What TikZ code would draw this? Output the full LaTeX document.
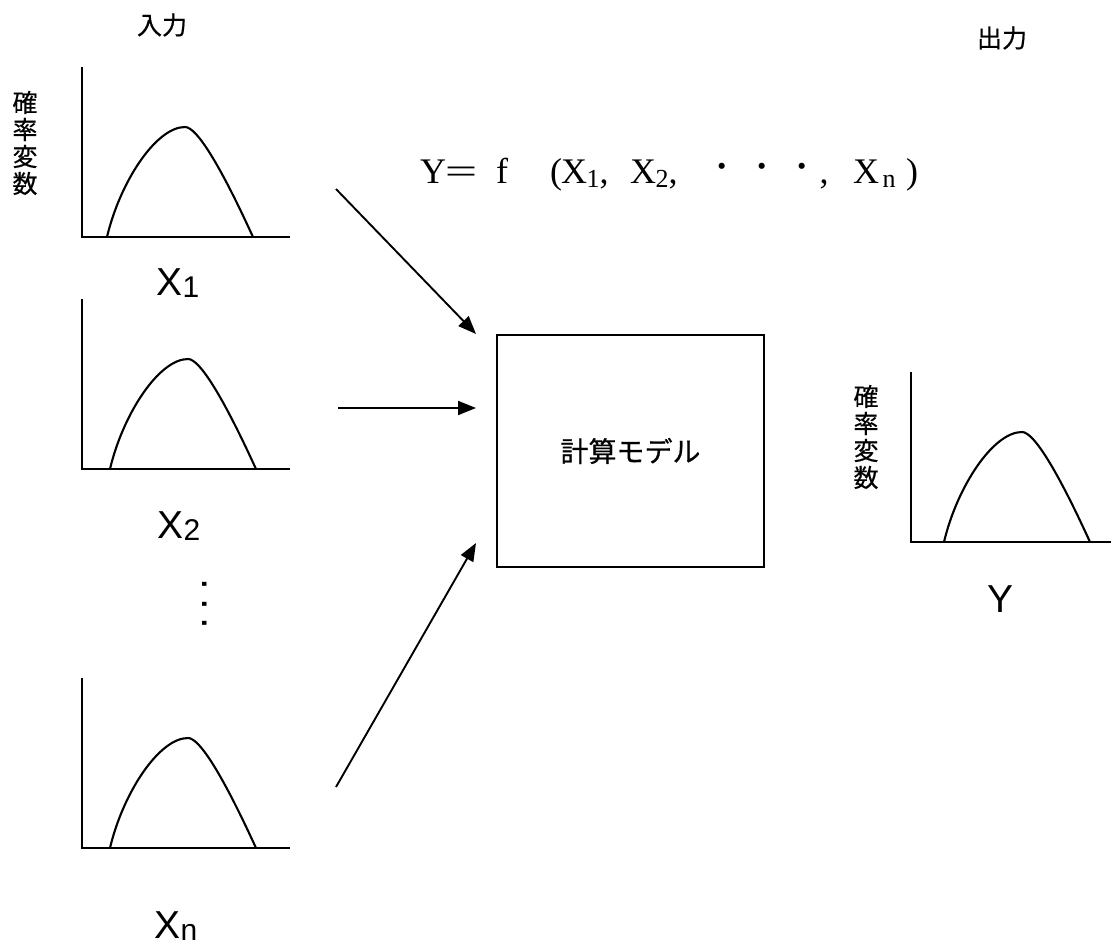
\documentclass[tikz,border=0pt]{standalone}
\usepackage{fontspec}
\setmainfont{Liberation Serif}
\newfontfamily\jpfont{Noto Sans CJK JP}[FakeBold=0.6]
\newfontfamily\lsans{Liberation Sans}
\usetikzlibrary{arrows.meta}
\tikzset{
  axisline/.style={line width=1.5pt},
  bellcurve/.style={line width=2.1pt},
  arr/.style={line width=1.9pt,-{Triangle[length=18pt,width=14pt]}},
  jplabel/.style={font=\jpfont\fontsize{25}{27}\selectfont, inner sep=0pt, align=center},
  xlabel/.style={font=\lsans\fontsize{39}{39}\selectfont, inner sep=0pt, anchor=base},
  fm/.style={font=\fontsize{36}{36}\selectfont, inner sep=0pt, anchor=base},
  fs/.style={font=\fontsize{26}{26}\selectfont, inner sep=0pt, anchor=base},
  fdot/.style={font=\fontsize{52}{52}\selectfont, inner sep=0pt, anchor=base},
  pics/bell/.style={code={
    \draw[axisline] (0,-170) -- (0,0) -- (208,0);
    \draw[bellcurve, xshift=#1] (28,0) .. controls (41,-55) and (77,-110) .. (106,-110)
       .. controls (118,-110) and (142,-70) .. (174,0);
  }}
}
\newcommand{\subl}[1]{\raisebox{-2pt}{\fontsize{30}{30}\selectfont #1}}
\begin{document}
\begin{tikzpicture}[x=1pt,y=-1pt]
\useasboundingbox (0,0) rectangle (1111,945);

% titles
\node[jplabel] (inlab) at (162,25) {入力};
\node[jplabel] (outlab) at (1002,38) {出力};
\node[jplabel] (pl) at (25,143) {確\\率\\変\\数};
\node[jplabel] (pr) at (866,437) {確\\率\\変\\数};

% plots
\pic at (82,237) {bell=-3pt};
\pic at (82,469) {bell=0pt};
\pic at (82,848) {bell=0pt};
\pic at (911,542) {bell=5pt};

% axis labels
\node[xlabel] (x1) at (178,295) {X\subl{1}};
\node[xlabel] (x2) at (179,538) {X\subl{2}};
\node[xlabel] (xn) at (176,938) {X\subl{n}};
\node[xlabel] (yl) at (1000,612) {Y};
\node[font=\lsans\fontsize{42}{42}\selectfont, inner sep=0pt, rotate=-90] (vd) at (205,604) {.\kern8pt.\kern8pt.};

% formula
\node[fm] (fY) at (433,183) {Y};
\node[fm] (feq) at (461,183) {\scalebox{1.6}[1]{=}};
\node[fm] (ff) at (502,183) {f};
\node[fm] (flp) at (556,183) {(};
\node[fm] (fx1) at (574,183) {X};
\node[fs] (fs1) at (593,187) {1};
\node[fm] (fc1) at (604,183) {,};
\node[fm] (fx2) at (643,183) {X};
\node[fs] (fs2) at (662,187) {2};
\node[fm] (fc2) at (673,183) {,};
\node[fdot] (fd1) at (722,183) {·};
\node[fdot] (fd2) at (762,183) {·};
\node[fdot] (fd3) at (802,183) {·};
\node[fm] (fc3) at (824,183) {,};
\node[fm] (fxn) at (866,183) {X};
\node[fs] (fsn) at (889,187) {n};
\node[fm] (frp) at (912,183) {)};

% model box
\node[draw, line width=1.3pt, minimum width=267pt, minimum height=232pt,
      font=\jpfont\fontsize{28}{28}\selectfont] (model) at (630.5,451) {計算モデル};

% arrows
\coordinate (a1s) at (336,189); \coordinate (a1e) at (476,334);
\coordinate (a2s) at (338,408); \coordinate (a2e) at (476,408);
\coordinate (a3s) at (336,787); \coordinate (a3e) at (476,543);
\draw[arr] (a1s) -- (a1e);
\draw[arr] (a2s) -- (a2e);
\draw[arr] (a3s) -- (a3e);
\end{tikzpicture}
\end{document}
